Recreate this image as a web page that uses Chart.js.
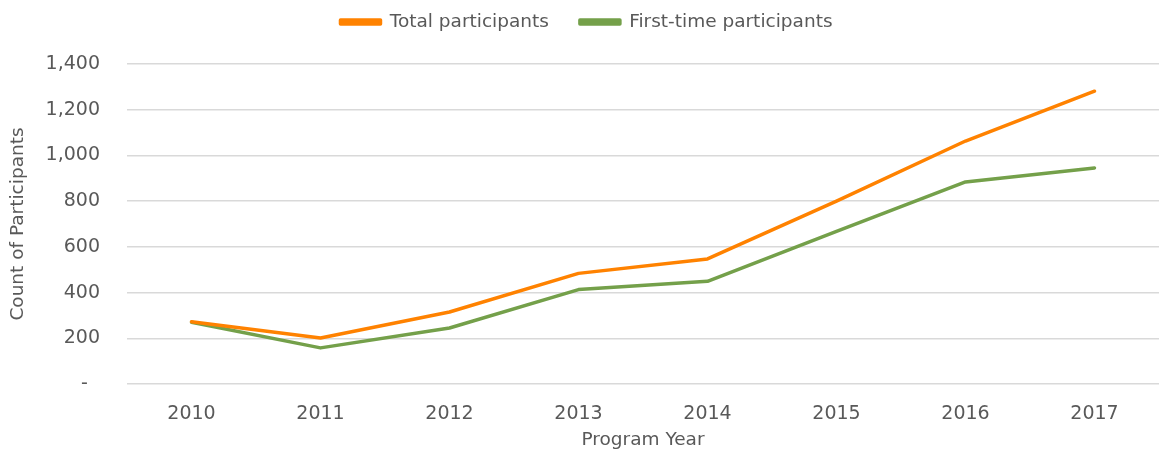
<!DOCTYPE html>
<html>
<head>
<meta charset="utf-8">
<script src="https://cdn.jsdelivr.net/npm/chart.js@4/dist/chart.umd.min.js"></script>
<style>
html,body{margin:0;padding:0;background:#fff;}
#wrap{width:1159px;height:453px;}
</style>
</head>
<body>
<div id="wrap"><canvas id="c" width="1159" height="453"></canvas></div>
<script>
const years = ['2010','2011','2012','2013','2014','2015','2016','2017'];
const totalParticipants = [272, 201, 315, 484, 547, 800, 1063, 1281];
const firstTimeParticipants = [270, 158, 245, 413, 449, 668, 884, 945];
const yTicks = [0, 200, 400, 600, 800, 1000, 1200, 1400];

const textColor = '#595959';
const fontFam = '"DejaVu Sans", sans-serif';

const LEGEND_PAD = 31;
const LEGEND_AREA_H = 64;
const LEGEND_TEXT_Y = 22;
const LEGEND_SHIFT_X = 7;
const LEGEND_FONT = 18.5;

const legendLayoutPlugin = {
  id: 'legendLayout',
  beforeLayout(chart) {
    const lg = chart.legend;
    if (lg && !lg._patched) {
      const orig = lg.fit;
      lg.fit = function() { orig.call(this); this.height = LEGEND_AREA_H; };
      lg._patched = true;
    }
  },
  afterLayout(chart) {
    const lg = chart.legend;
    if (lg) {
      const top = LEGEND_TEXT_Y - LEGEND_PAD - LEGEND_FONT / 2;
      lg.top = top;
      lg.bottom = top + LEGEND_AREA_H;
      lg.left += LEGEND_SHIFT_X;
      lg.right += LEGEND_SHIFT_X;
    }
  }
};

new Chart(document.getElementById('c'), {
  type: 'line',
  data: {
    labels: years,
    datasets: [
      {
        label: 'Total participants',
        data: totalParticipants,
        borderColor: '#FF8200',
        backgroundColor: '#FF8200',
        borderWidth: 3.5,
        pointRadius: 0,
        tension: 0,
        borderCapStyle: 'round',
        borderJoinStyle: 'round'
      },
      {
        label: 'First-time participants',
        data: firstTimeParticipants,
        borderColor: '#74A04A',
        backgroundColor: '#74A04A',
        borderWidth: 3.5,
        pointRadius: 0,
        tension: 0,
        borderCapStyle: 'round',
        borderJoinStyle: 'round'
      }
    ]
  },
  plugins: [legendLayoutPlugin],
  options: {
    responsive: false,
    animation: false,
    devicePixelRatio: 1,
    layout: { padding: 0 },
    plugins: {
      tooltip: { enabled: false },
      legend: {
        position: 'top',
        labels: {
          color: textColor,
          font: { family: fontFam, size: LEGEND_FONT },
          boxWidth: 40,
          boxHeight: 4,
          padding: LEGEND_PAD
        }
      }
    },
    scales: {
      x: {
        offset: true,
        grid: { display: false, offset: true },
        border: { display: false },
        ticks: {
          color: textColor,
          font: { family: fontFam, size: 19 },
          padding: 11,
          maxRotation: 0
        },
        title: {
          display: true,
          text: 'Program Year',
          color: textColor,
          font: { family: fontFam, size: 18.5 },
          padding: { top: 2, bottom: 2 }
        },
        afterFit: (s) => { s.height = 69; s.paddingRight = 0; s.paddingLeft = 0; }
      },
      y: {
        min: 0,
        max: 1400,
        afterBuildTicks: (s) => { s.ticks = yTicks.map(v => ({ value: v })); },
        grid: { color: '#d9d9d9', lineWidth: 1.5, drawTicks: false },
        border: { display: false },
        ticks: {
          color: textColor,
          font: { family: fontFam, size: 19 },
          padding: 27,
          callback: (v) => v === 0 ? '-  ' : Number(v).toLocaleString('en-US')
        },
        title: {
          display: true,
          text: 'Count of Participants',
          color: textColor,
          font: { family: fontFam, size: 18.5 },
          padding: { top: 7, bottom: 0 }
        },
        afterFit: (s) => { s.width = 127; s.paddingTop = 64; }
      }
    }
  }
});
</script>
</body>
</html>
